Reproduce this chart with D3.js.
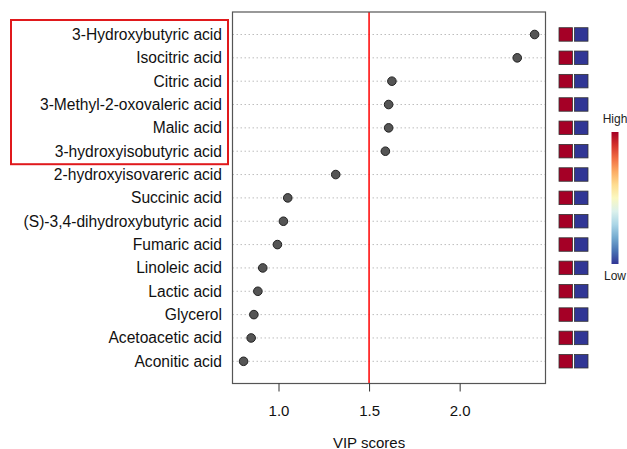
<!DOCTYPE html>
<html><head><meta charset="utf-8">
<script src="https://cdn.jsdelivr.net/npm/d3@7"></script>
<style>body{margin:0;background:#fff;}svg{display:block;font-family:"Liberation Sans",Arial,sans-serif;}</style>
</head><body>
<svg id="c" width="627" height="449"></svg>
<script>
const categories = ["3-Hydroxybutyric acid","Isocitric acid","Citric acid","3-Methyl-2-oxovaleric acid","Malic acid","3-hydroxyisobutyric acid","2-hydroxyisovareric acid","Succinic acid","(S)-3,4-dihydroxybutyric acid","Fumaric acid","Linoleic acid","Lactic acid","Glycerol","Acetoacetic acid","Aconitic acid"];
const vipScores = [2.414,2.318,1.626,1.608,1.608,1.590,1.316,1.051,1.027,0.994,0.913,0.886,0.864,0.849,0.807];
const highlighted = ["3-Hydroxybutyric acid","Isocitric acid","Citric acid","3-Methyl-2-oxovaleric acid","Malic acid","3-hydroxyisobutyric acid"];
const groupLevels = [["High","Low"],["High","Low"],["High","Low"],["High","Low"],["High","Low"],["High","Low"],["High","Low"],["High","Low"],["High","Low"],["High","Low"],["High","Low"],["High","Low"],["High","Low"],["High","Low"],["High","Low"]];
const xTicks = [1.0,1.5,2.0];
const threshold = 1.5;
const xLabel = "VIP scores";

const svg = d3.select("#c");
const L=232.5, R=545.5, T=12, B=383.5;
const x = d3.scaleLinear().domain([0.746,2.474]).range([L,R]);
const y = d3.scalePoint().domain(categories).range([34.5,361.3]);
const heat = v => v==="High" ? "#A50026" : "#313695";

// grid lines
svg.append("g").selectAll("line").data(categories).join("line")
  .attr("x1",L).attr("x2",R).attr("y1",d=>y(d)).attr("y2",d=>y(d))
  .attr("stroke","#bdbdbd").attr("stroke-width",1).attr("stroke-dasharray","1.5,2.5");

// threshold line
svg.append("line").attr("x1",x(threshold)).attr("x2",x(threshold)).attr("y1",T).attr("y2",B)
  .attr("stroke","#ff0000").attr("stroke-width",1.5);

// dots
svg.append("g").selectAll("circle").data(categories).join("circle")
  .attr("cx",(d,i)=>x(vipScores[i])).attr("cy",d=>y(d)).attr("r",4.3)
  .attr("fill","#555").attr("stroke","#222").attr("stroke-width",1);

// box
svg.append("rect").attr("x",L).attr("y",T).attr("width",R-L).attr("height",B-T)
  .attr("fill","none").attr("stroke","#555").attr("stroke-width",1.2);

// x axis
const ax = svg.append("g").attr("transform",`translate(0,${B})`)
  .call(d3.axisBottom(x).tickValues(xTicks).tickFormat(d3.format(".1f")).tickSize(8).tickPadding(14).tickSizeOuter(0));
ax.select(".domain").remove();
ax.selectAll("line").attr("stroke","#333");
ax.selectAll("text").attr("font-size",15).attr("fill","#111").attr("font-family","Liberation Sans, Arial, sans-serif");
svg.append("text").attr("x",x(1.5)).attr("y",442).attr("text-anchor","middle").attr("dominant-baseline","central")
  .attr("font-size",15).attr("fill","#111").text(xLabel);

// y labels
svg.append("g").selectAll("text").data(categories).join("text")
  .attr("x",222).attr("y",d=>y(d)).attr("text-anchor","end").attr("dominant-baseline","central")
  .attr("font-size",15.6).attr("fill","#111").text(d=>d);

// highlight box
const hy = highlighted.map(d=>y(d));
svg.append("rect").attr("x",11).attr("y",d3.min(hy)-14.5).attr("width",217).attr("height",d3.max(hy)-d3.min(hy)+27.5)
  .attr("fill","none").attr("stroke","#e0191c").attr("stroke-width",2);

// heat squares
const hg = svg.append("g");
categories.forEach((c,i)=>{
  groupLevels[i].forEach((lv,j)=>{
    hg.append("rect").attr("x",559+j*15.5).attr("y",y(c)-6.8).attr("width",13.5).attr("height",13.5)
      .attr("fill",heat(lv)).attr("stroke","#333").attr("stroke-width",0.8);
  });
});

// colour legend
const defs = svg.append("defs");
const grad = defs.append("linearGradient").attr("id","g").attr("x1",0).attr("x2",0).attr("y1",0).attr("y2",1);
d3.range(0,1.0001,0.1).forEach(t=>grad.append("stop").attr("offset",t).attr("stop-color",d3.interpolateRdYlBu(t)));
svg.append("rect").attr("x",611.5).attr("y",132).attr("width",7).attr("height",132).attr("fill","url(#g)");
svg.append("text").attr("x",615).attr("y",119).attr("text-anchor","middle").attr("dominant-baseline","central")
  .attr("font-size",12).attr("fill","#222").text("High");
svg.append("text").attr("x",615).attr("y",276).attr("text-anchor","middle").attr("dominant-baseline","central")
  .attr("font-size",12).attr("fill","#222").text("Low");
</script>
</body></html>
